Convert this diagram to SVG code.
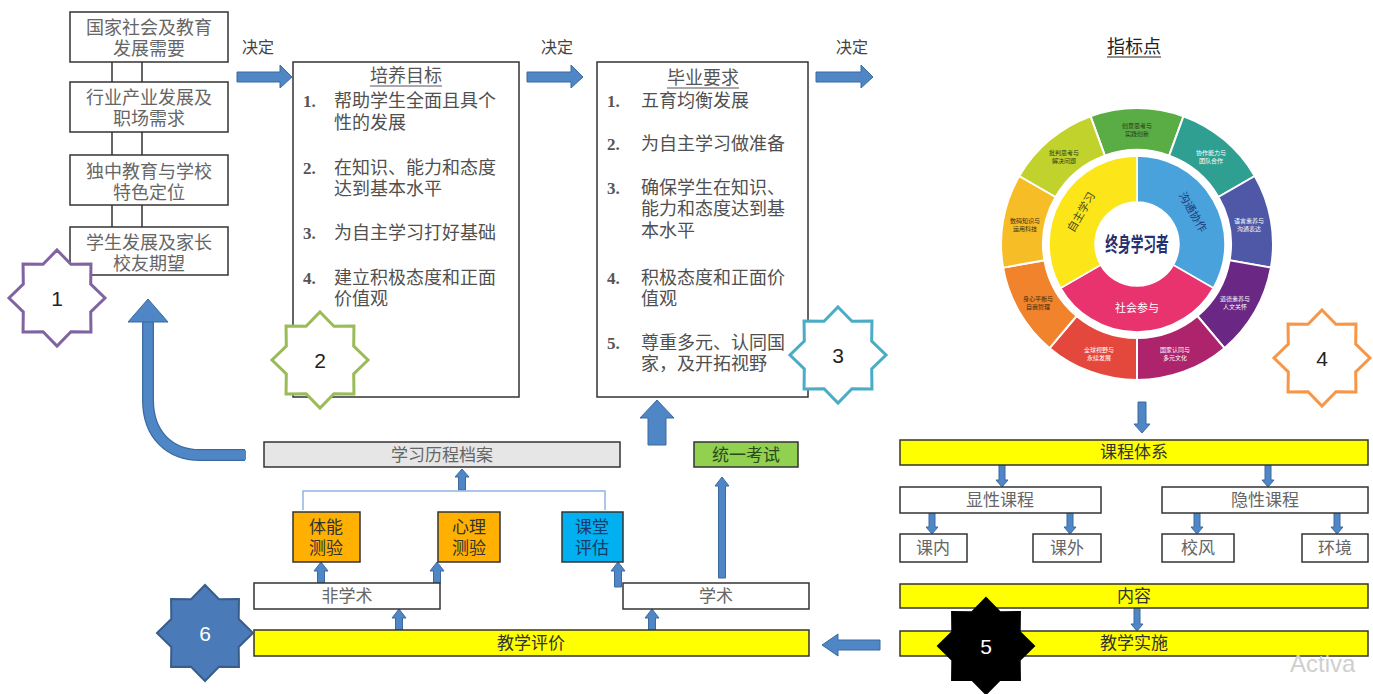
<svg xmlns="http://www.w3.org/2000/svg" xmlns:xlink="http://www.w3.org/1999/xlink" width="1373" height="694" viewBox="0 0 1373 694">
<style>
.bx{fill:#fff;stroke:#333;stroke-width:1.5}
.yl{fill:#ffff00;stroke:#333;stroke-width:1.5}
.t{font-family:"Liberation Serif","Noto Sans CJK SC",serif;font-size:18px;fill:#505050}
.tc{font-family:"Liberation Serif","Noto Sans CJK SC",serif;font-size:17px;fill:#333;text-anchor:middle}
.tg{font-family:"Liberation Serif","Noto Sans CJK SC",serif;font-size:17px;fill:#666;text-anchor:middle}
.num{font-family:"Liberation Serif",serif;font-size:17px;font-weight:bold;fill:#555}
.ar{fill:#4f86c6;stroke:#3d6a9e;stroke-width:1}
.ln{stroke:#333;stroke-width:1.5;fill:none}
.sl{font-family:"Noto Sans CJK SC",sans-serif;font-size:6px;text-anchor:middle}
.sn{font-family:"Liberation Sans",sans-serif;font-size:21px;text-anchor:middle}
.seg{stroke:#fff;stroke-width:2}
</style>
<defs>
<polygon id="star" points="0,-48 13.96,-33.71 33.94,-33.94 33.71,-13.96 48,0 33.71,13.96 33.94,33.94 13.96,33.71 0,48 -13.96,33.71 -33.94,33.94 -33.71,13.96 -48,0 -33.71,-13.96 -33.94,-33.94 -13.96,-33.71"/>
</defs>
<rect width="1373" height="694" fill="#fff"/>

<g id="connectors">
<!-- links between left boxes -->
<path class="ln" d="M112,62V82M142,62V82M112,132V155M142,132V155M112,205V227M142,205V227"/>
<!-- decide arrows -->
<path class="ar" d="M237,72H280V65L292,77L280,88V82H237Z"/>
<path class="ar" d="M527,72H571V65L583,77L571,88V82H527Z"/>
<path class="ar" d="M816,72H861V65L873,77L861,88V82H816Z"/>
<!-- curved arrow to left column -->
<path d="M245,455L200,455C170,455 148,435 148,400L148,321" fill="none" stroke="#3d6a9e" stroke-width="12"/>
<path d="M246,455L200,455C170,455 148,435 148,400L148,320" fill="none" stroke="#4f86c6" stroke-width="9.5"/>
<path class="ar" d="M128,322L148,299L168,322Z"/>
<!-- big up arrow to 毕业要求 -->
<path class="ar" d="M648,445V418H640L657,400L674,418H666V445Z"/>
<!-- wheel down to 课程体系 -->
<path class="ar" d="M1138,402H1146V424H1150L1142,433L1134,424H1138Z"/>
<!-- right tree arrows -->
<path class="ar" d="M999,465H1005V480H1008L1002,487L996,480H999Z"/>
<path class="ar" d="M1265,465H1271V480H1274L1268,487L1262,480H1265Z"/>
<path class="ar" d="M929,513H935V527H938L932,534L926,527H929Z"/>
<path class="ar" d="M1067,513H1073V527H1076L1070,534L1064,527H1067Z"/>
<path class="ar" d="M1194,513H1200V527H1203L1197,534L1191,527H1194Z"/>
<path class="ar" d="M1334,513H1340V527H1343L1337,534L1331,527H1334Z"/>
<path class="ar" d="M1134,608H1140V624H1143L1137,631L1131,624H1134Z"/>
<!-- 教学实施 to 教学评价 -->
<path class="ar" d="M880,640H838V634L822,645L838,656V650H880Z"/>
<!-- bottom left arrows -->
<path class="ar" d="M458.5,490V477H455L462,469L469,477H465.5V490Z"/>
<path d="M303,510V491H605V510" fill="none" stroke="#8eb4e3" stroke-width="1.5"/>
<path class="ar" d="M317.5,583V571H314L321,562L328,571H324.5V583Z"/>
<path class="ar" d="M433.5,583V571H430L437,562L444,571H440.5V583Z"/>
<path class="ar" d="M614.5,587V571H611L618,562L625,571H621.5V587Z"/>
<path class="ar" d="M395.5,630V618H392L399,609L406,618H402.5V630Z"/>
<path class="ar" d="M648.5,630V618H645L652,609L659,618H655.5V630Z"/>
<path class="ar" d="M718.5,578V486H715L722,477L729,486H725.5V578Z"/>
</g>

<text class="t" x="242" y="53" style="font-size:16px;fill:#444">决定</text>
<text class="t" x="541" y="53" style="font-size:16px;fill:#444">决定</text>
<text class="t" x="836" y="53" style="font-size:16px;fill:#444">决定</text>

<g id="left-col">
<g id="n-guojia"><rect class="bx" x="70" y="12" width="158" height="50"/>
<text class="tg" x="149" y="34" style="font-size:18px">国家社会及教育</text><text class="tg" x="149" y="55" style="font-size:18px">发展需要</text></g>
<g id="n-hangye"><rect class="bx" x="70" y="82" width="158" height="50"/>
<text class="tg" x="149" y="104" style="font-size:18px">行业产业发展及</text><text class="tg" x="149" y="125" style="font-size:18px">职场需求</text></g>
<g id="n-duzhong"><rect class="bx" x="70" y="155" width="158" height="50"/>
<text class="tg" x="149" y="178" style="font-size:18px">独中教育与学校</text><text class="tg" x="149" y="199" style="font-size:18px">特色定位</text></g>
<g id="n-xuesheng"><rect class="bx" x="70" y="227" width="158" height="48"/>
<text class="tg" x="149" y="249" style="font-size:18px">学生发展及家长</text><text class="tg" x="149" y="270" style="font-size:18px">校友期望</text></g>
</g>

<g id="n-peiyang">
<rect class="bx" x="293" y="62" width="226" height="335"/>
<text class="tc" x="406" y="82" style="font-size:18px;fill:#555">培养目标</text>
<line x1="370" y1="86" x2="442" y2="86" stroke="#555" stroke-width="1"/>
<text class="num" x="303" y="107">1.</text><text class="t" x="334" y="107">帮助学生全面且具个</text><text class="t" x="334" y="129">性的发展</text>
<text class="num" x="303" y="174">2.</text><text class="t" x="334" y="174">在知识、能力和态度</text><text class="t" x="334" y="195">达到基本水平</text>
<text class="num" x="303" y="239">3.</text><text class="t" x="334" y="239">为自主学习打好基础</text>
<text class="num" x="303" y="284">4.</text><text class="t" x="334" y="284">建立积极态度和正面</text><text class="t" x="334" y="305">价值观</text>
</g>

<g id="n-biye">
<rect class="bx" x="597" y="62" width="211" height="335"/>
<text class="tc" x="703" y="84" style="font-size:18px;fill:#555">毕业要求</text>
<line x1="667" y1="88" x2="739" y2="88" stroke="#555" stroke-width="1"/>
<text class="num" x="607" y="107">1.</text><text class="t" x="641" y="107">五育均衡发展</text>
<text class="num" x="607" y="150">2.</text><text class="t" x="641" y="150">为自主学习做准备</text>
<text class="num" x="607" y="194">3.</text><text class="t" x="641" y="194">确保学生在知识、</text><text class="t" x="641" y="215">能力和态度达到基</text><text class="t" x="641" y="237">本水平</text>
<text class="num" x="607" y="284">4.</text><text class="t" x="641" y="284">积极态度和正面价</text><text class="t" x="641" y="305">值观</text>
<text class="num" x="607" y="349">5.</text><text class="t" x="641" y="349">尊重多元、认同国</text><text class="t" x="641" y="370">家，及开拓视野</text>
</g>

<g id="n-zhibiao">
<text class="tc" x="1134" y="53" style="font-size:18px;fill:#222;font-family:'Noto Sans CJK SC',sans-serif">指标点</text>
<line x1="1107" y1="57" x2="1161" y2="57" stroke="#222" stroke-width="1"/>
<g id="wheel">
<path class="seg" fill="#5aac44" d="M1090.49,116.2A136,136 0 0 1 1183.51,116.2L1169.15,155.67A94,94 0 0 0 1104.85,155.67Z"/>
<path class="seg" fill="#2f9f92" d="M1183.51,116.2A136,136 0 0 1 1254.78,176L1218.4,197A94,94 0 0 0 1169.15,155.67Z"/>
<path class="seg" fill="#4f58a6" d="M1254.78,176A136,136 0 0 1 1270.93,267.61L1229.57,260.32A94,94 0 0 0 1218.4,197Z"/>
<path class="seg" fill="#6a2784" d="M1270.93,267.61A136,136 0 0 1 1224.42,348.18L1197.42,316A94,94 0 0 0 1229.57,260.32Z"/>
<path class="seg" fill="#ad236c" d="M1224.42,348.18A136,136 0 0 1 1137,380L1137,338A94,94 0 0 0 1197.42,316Z"/>
<path class="seg" fill="#e4473c" d="M1137,380A136,136 0 0 1 1049.58,348.18L1076.58,316A94,94 0 0 0 1137,338Z"/>
<path class="seg" fill="#f0832b" d="M1049.58,348.18A136,136 0 0 1 1003.07,267.61L1044.43,260.32A94,94 0 0 0 1076.58,316Z"/>
<path class="seg" fill="#f6bd27" d="M1003.07,267.61A136,136 0 0 1 1019.22,176L1055.6,197A94,94 0 0 0 1044.43,260.32Z"/>
<path class="seg" fill="#c2d22c" d="M1019.22,176A136,136 0 0 1 1090.49,116.2L1104.85,155.67A94,94 0 0 0 1055.6,197Z"/>
<path fill="#4aa2dc" stroke="#fff" stroke-width="1.5" d="M1137,156A88,88 0 0 1 1213.21,288L1173.37,265A42,42 0 0 0 1137,202Z"/>
<path fill="#e8336f" stroke="#fff" stroke-width="1.5" d="M1213.21,288A88,88 0 0 1 1060.79,288L1100.63,265A42,42 0 0 0 1173.37,265Z"/>
<path fill="#fce61a" stroke="#fff" stroke-width="1.5" d="M1060.79,288A88,88 0 0 1 1137,156L1137,202A42,42 0 0 0 1100.63,265Z"/>
<circle cx="1137" cy="244" r="40" fill="#fff"/>
<text transform="translate(1137,252) scale(0.75,1.2)" text-anchor="middle" style="font-family:'Noto Sans CJK SC',sans-serif;font-size:17px;font-weight:bold;fill:#26306e">终身学习者</text>
<text transform="translate(1081,212) rotate(-60)" text-anchor="middle" dy="4" style="font-family:'Noto Sans CJK SC',sans-serif;font-size:11px;fill:#4a4a20">自主学习</text>
<text transform="translate(1193,212) rotate(60)" text-anchor="middle" dy="4" style="font-family:'Noto Sans CJK SC',sans-serif;font-size:11px;fill:#1f3a7a">沟通协作</text>
<text x="1137" y="312" text-anchor="middle" style="font-family:'Noto Sans CJK SC',sans-serif;font-size:11px;fill:#fff">社会参与</text>
<text class="sl" x="1137" y="128" fill="#2a3a1a">创意思考与</text><text class="sl" x="1137" y="136" fill="#2a3a1a">实践创新</text>
<text class="sl" x="1211" y="155" fill="#fff">协作能力与</text><text class="sl" x="1211" y="163" fill="#fff">团队合作</text>
<text class="sl" x="1249" y="223" fill="#fff">语言素养与</text><text class="sl" x="1249" y="231" fill="#fff">沟通表达</text>
<text class="sl" x="1235" y="301" fill="#fff">道德素养与</text><text class="sl" x="1235" y="309" fill="#fff">人文关怀</text>
<text class="sl" x="1175" y="352" fill="#fff">国家认同与</text><text class="sl" x="1175" y="360" fill="#fff">多元文化</text>
<text class="sl" x="1099" y="352" fill="#fff">全球视野与</text><text class="sl" x="1099" y="360" fill="#fff">永续发展</text>
<text class="sl" x="1038" y="301" fill="#3a2a10">身心平衡与</text><text class="sl" x="1038" y="309" fill="#3a2a10">自我管理</text>
<text class="sl" x="1025" y="223" fill="#3a2a10">数码知识与</text><text class="sl" x="1025" y="231" fill="#3a2a10">运用科技</text>
<text class="sl" x="1064" y="155" fill="#2a3a1a">批判思考与</text><text class="sl" x="1064" y="163" fill="#2a3a1a">解决问题</text>
</g>
</g>

<g id="n-kecheng"><rect class="yl" x="900" y="440" width="468" height="25"/><text class="tc" x="1134" y="458">课程体系</text></g>
<g id="n-xianxing"><rect class="bx" x="900" y="487" width="201" height="26"/><text class="tg" x="1000" y="506">显性课程</text></g>
<g id="n-yinxing"><rect class="bx" x="1162" y="487" width="206" height="26"/><text class="tg" x="1265" y="506">隐性课程</text></g>
<g id="n-kenei"><rect class="bx" x="900" y="534" width="67" height="28"/><text class="tg" x="933" y="554">课内</text></g>
<g id="n-kewai"><rect class="bx" x="1033" y="534" width="68" height="28"/><text class="tg" x="1067" y="554">课外</text></g>
<g id="n-xiaofeng"><rect class="bx" x="1162" y="534" width="72" height="28"/><text class="tg" x="1198" y="554">校风</text></g>
<g id="n-huanjing"><rect class="bx" x="1302" y="534" width="66" height="28"/><text class="tg" x="1335" y="554">环境</text></g>
<g id="n-neirong"><rect class="yl" x="900" y="584" width="468" height="24"/><text class="tc" x="1134" y="602">内容</text></g>
<g id="n-shishi"><rect class="yl" x="900" y="631" width="468" height="25"/><text class="tc" x="1134" y="649">教学实施</text></g>

<g id="n-licheng"><rect x="264" y="442" width="356" height="25" fill="#e6e6e6" stroke="#333" stroke-width="1.5"/><text class="tg" x="442" y="461">学习历程档案</text></g>
<g id="n-tongyi"><rect x="694" y="442" width="104" height="25" fill="#92d050" stroke="#333" stroke-width="1.5"/><text class="tc" x="746" y="461" style="fill:#2a4a1a">统一考试</text></g>
<g id="n-tineng"><rect x="293" y="512" width="67" height="50" fill="#ffb000" stroke="#333" stroke-width="1.5"/><text class="tc" x="326" y="533">体能</text><text class="tc" x="326" y="554">测验</text></g>
<g id="n-xinli"><rect x="438" y="512" width="62" height="50" fill="#ffb000" stroke="#333" stroke-width="1.5"/><text class="tc" x="469" y="533">心理</text><text class="tc" x="469" y="554">测验</text></g>
<g id="n-ketang"><rect x="562" y="512" width="61" height="50" fill="#00b0f0" stroke="#333" stroke-width="1.5"/><text class="tc" x="592" y="533" style="fill:#1a3a6a">课堂</text><text class="tc" x="592" y="554" style="fill:#1a3a6a">评估</text></g>
<g id="n-feixueshu"><rect class="bx" x="254" y="583" width="186" height="26"/><text class="tg" x="347" y="602">非学术</text></g>
<g id="n-xueshu"><rect class="bx" x="623" y="583" width="186" height="26"/><text class="tg" x="716" y="602">学术</text></g>
<g id="n-pingjia"><rect class="yl" x="254" y="630" width="555" height="26"/><text class="tc" x="531" y="649">教学评价</text></g>

<g id="stars">
<g id="s1"><use xlink:href="#star" href="#star" x="57" y="298" fill="#fff" stroke="#8064a2" stroke-width="3"/><text class="sn" x="57" y="306" fill="#222">1</text></g>
<g id="s2"><use xlink:href="#star" href="#star" x="320" y="360" fill="#fff" stroke="#9bbb59" stroke-width="3"/><text class="sn" x="320" y="368" fill="#222">2</text></g>
<g id="s3"><use xlink:href="#star" href="#star" x="838" y="355" fill="#fff" stroke="#4bacc6" stroke-width="3"/><text class="sn" x="838" y="363" fill="#222">3</text></g>
<g id="s4"><use xlink:href="#star" href="#star" x="1322" y="358" fill="#fff" stroke="#f79646" stroke-width="3"/><text class="sn" x="1322" y="366" fill="#222">4</text></g>
<g id="s5"><use xlink:href="#star" href="#star" x="986" y="646" fill="#000" stroke="#000" stroke-width="2"/><text class="sn" x="986" y="654" fill="#fff">5</text></g>
<g id="s6"><use xlink:href="#star" href="#star" x="205" y="633" fill="#4a7ab8" stroke="#385d8a" stroke-width="2"/><text class="sn" x="205" y="641" fill="#fff">6</text></g>
</g>

<text x="1290" y="672" style="font-family:'Liberation Sans',sans-serif;font-size:24px;fill:#cfcfcf">Activa</text>
</svg>
